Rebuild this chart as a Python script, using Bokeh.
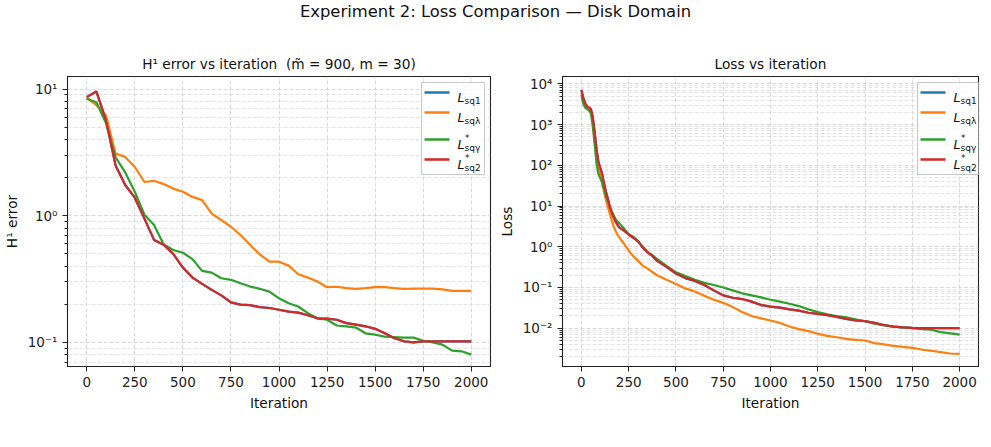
from bokeh.plotting import figure
from bokeh.models import (Range1d, FixedTicker, CustomJSTickFormatter, BoxAnnotation,
                          Label, Div)
from bokeh.layouts import column, row
from bokeh.embed import file_html
from bokeh.resources import INLINE

# ---------------- data ----------------
h1_iter = list(range(0, 2001, 50))
h1_sq2 = [8.65, 9.6, 5.7, 2.5, 1.75, 1.39, 0.95, 0.645, 0.59, 0.50, 0.39, 0.325, 0.29, 0.26,
          0.235, 0.207, 0.199, 0.197, 0.19, 0.187, 0.181, 0.175, 0.172, 0.164, 0.155, 0.154,
          0.151, 0.142, 0.138, 0.134, 0.128, 0.118, 0.108, 0.102, 0.100, 0.102, 0.102, 0.102,
          0.102, 0.102, 0.102]
h1_sqg = [8.4, 7.9, 5.4, 2.9, 2.2, 1.55, 1.02, 0.845, 0.594, 0.537, 0.511, 0.455, 0.367, 0.356,
          0.321, 0.312, 0.293, 0.276, 0.265, 0.252, 0.223, 0.204, 0.192, 0.17, 0.155, 0.151,
          0.136, 0.134, 0.131, 0.118, 0.115, 0.111, 0.110, 0.109, 0.109, 0.103, 0.100, 0.096,
          0.086, 0.085, 0.080]
h1_sql = [8.55, 7.5, 6.2, 3.1, 2.92, 2.43, 1.85, 1.89, 1.78, 1.64, 1.55, 1.41, 1.33, 1.04,
          0.925, 0.819, 0.705, 0.588, 0.496, 0.434, 0.434, 0.404, 0.345, 0.325, 0.302, 0.273,
          0.275, 0.268, 0.265, 0.268, 0.273, 0.273, 0.268, 0.265, 0.266, 0.266, 0.266, 0.262,
          0.255, 0.255, 0.255]
# L_sq1 is drawn first and is completely hidden below L*_sq2 in the reference
h1_sq1 = list(h1_sq2)

loss_iter = [0, 10, 20, 30, 40, 50, 60, 70, 80, 90, 100, 110, 120, 130, 140, 150, 160, 170,
             180, 190, 200, 225, 250, 275, 300, 325, 350, 375, 400, 450, 500, 550, 600, 650,
             700, 750, 800, 850, 900, 950, 1000, 1050, 1100, 1150, 1200, 1250, 1300, 1350,
             1400, 1450, 1500, 1550, 1600, 1650, 1700, 1750, 1800, 1850, 1900, 1950, 2000]
loss_sq2 = [7000, 4500, 3300, 2800, 2600, 2400, 1550, 650, 250, 120, 85, 60, 35, 22, 15, 9.5,
            7.0, 5.3, 4.2, 3.5, 3.0, 2.5, 2.0, 1.65, 1.35, 0.95, 0.72, 0.6, 0.45, 0.32, 0.22,
            0.17, 0.145, 0.115, 0.085, 0.064, 0.056, 0.052, 0.045, 0.037, 0.034, 0.032, 0.029,
            0.027, 0.024, 0.0225, 0.021, 0.019, 0.017, 0.0155, 0.015, 0.0135, 0.012, 0.011,
            0.0105, 0.0102, 0.0101, 0.0101, 0.0101, 0.0101, 0.0101]
loss_sqg = [5300, 3200, 2600, 2400, 2200, 1900, 900, 330, 110, 60, 48, 38, 25, 17, 13, 10,
            7.5, 6.0, 4.8, 4.2, 3.8, 2.8, 2.0, 1.75, 1.35, 1.0, 0.75, 0.62, 0.5, 0.34, 0.235,
            0.19, 0.155, 0.13, 0.115, 0.1, 0.085, 0.072, 0.064, 0.057, 0.05, 0.045, 0.04, 0.035,
            0.029, 0.025, 0.022, 0.02, 0.0185, 0.0165, 0.0148, 0.013, 0.0118, 0.011, 0.0105,
            0.01, 0.0095, 0.0092, 0.008, 0.0075, 0.007]
loss_sql = [6000, 4000, 3000, 2600, 2400, 2100, 1200, 450, 160, 90, 55, 35, 22, 14, 9.5, 6.5,
            4.5, 3.2, 2.5, 2.0, 1.7, 1.2, 0.8, 0.58, 0.45, 0.34, 0.29, 0.24, 0.2, 0.155, 0.122,
            0.095, 0.08, 0.063, 0.05, 0.042, 0.033, 0.025, 0.02, 0.0175, 0.0155, 0.0135, 0.011,
            0.0095, 0.0085, 0.0073, 0.0065, 0.006, 0.0055, 0.0052, 0.005, 0.0043, 0.004,
            0.0037, 0.0035, 0.0033, 0.003, 0.0028, 0.0026, 0.0024, 0.00235]
loss_sq1 = list(loss_sq2)

x_ticks = [0, 250, 500, 750, 1000, 1250, 1500, 1750, 2000]
series_names = [("L", "sq1", False), ("L", "sqλ", False), ("L", "sqγ", True), ("L", "sq2", True)]
colors = ["#1f77b4", "#ff7f0e", "#2ca02c", "#d62728"]

FONT = "DejaVu Sans"
DIV_H = 30
FIG_H = 447 - DIV_H

sup_fmt = CustomJSTickFormatter(code="""
const e = Math.round(Math.log10(tick));
const m = {'-':'\u207b','0':'\u2070','1':'\u00b9','2':'\u00b2','3':'\u00b3','4':'\u2074',
           '5':'\u2075','6':'\u2076','7':'\u2077','8':'\u2078','9':'\u2079'};
return '10' + String(e).split('').map(c => m[c]).join('');
""")


def log_ticks(lo_exp, hi_exp):
    majors = [10.0 ** e for e in range(lo_exp, hi_exp + 1)]
    minors = [k * 10.0 ** e for e in range(lo_exp - 1, hi_exp + 1) for k in range(2, 10)]
    return majors, minors


def make_fig(width, bl, br, yr, title, ylab, exps):
    p = figure(width=width, height=FIG_H, x_range=Range1d(-100, 2100),
               y_range=Range1d(*yr), y_axis_type="log", output_backend="svg",
               toolbar_location=None, min_border_left=bl, min_border_right=br,
               min_border_top=46, min_border_bottom=81, title=title)
    p.background_fill_color = "white"
    p.border_fill_color = "white"
    p.outline_line_color = "#222222"
    p.outline_line_width = 1.1
    p.title.align = "center"
    p.title.text_font = FONT
    p.title.text_font_size = "13.7px"
    p.title.text_font_style = "normal"
    p.title.text_color = "#111111"

    xt = FixedTicker(ticks=x_ticks, minor_ticks=[])
    majors, minors = log_ticks(*exps)
    yt = FixedTicker(ticks=majors, minor_ticks=minors)
    p.xaxis.ticker = xt
    p.xgrid.ticker = xt
    p.yaxis.ticker = yt
    p.ygrid.ticker = yt
    p.yaxis.formatter = sup_fmt

    for ax in (p.xaxis, p.yaxis):
        ax.axis_line_color = "#222222"
        ax.major_tick_line_color = "#222222"
        ax.minor_tick_line_color = "#222222"
        ax.major_tick_out = 5
        ax.major_tick_in = 0
        ax.minor_tick_in = 0
        ax.major_label_text_font = FONT
        ax.major_label_text_font_size = "13.5px"
        ax.major_label_text_color = "#222222"
        ax.axis_label_text_font = FONT
        ax.axis_label_text_font_size = "13.7px"
        ax.axis_label_text_font_style = "normal"
        ax.axis_label_text_color = "#111111"
    p.xaxis.minor_tick_out = 0
    p.yaxis.minor_tick_out = 3
    p.xaxis.axis_label = "Iteration"
    p.yaxis.axis_label = ylab

    for g in (p.xgrid, p.ygrid):
        g.grid_line_color = "#cfcfcf"
        g.grid_line_dash = "4 2"
        g.grid_line_width = 0.8
    p.ygrid.minor_grid_line_color = "#dcdcdc"
    p.ygrid.minor_grid_line_dash = "4 2"
    p.ygrid.minor_grid_line_width = 0.8
    return p


def add_legend(p, fw, fh, right_gap):
    bl = fw - right_gap - 63
    p.add_layout(BoxAnnotation(left=bl, right=fw - right_gap, top=fh - 6, bottom=fh - 98,
                               left_units="screen", right_units="screen",
                               top_units="screen", bottom_units="screen",
                               fill_color="white", fill_alpha=0.85,
                               line_color="#c8c8c8", line_alpha=1.0, line_width=1,
                               level="overlay"))
    ys = [fh - 16, fh - 36, fh - 63, fh - 83]
    for (base, sub, star), c, y in zip(series_names, colors, ys):
        p.add_layout(BoxAnnotation(left=bl + 3, right=bl + 28, top=y + 1.2, bottom=y - 1.2,
                                   left_units="screen", right_units="screen",
                                   top_units="screen", bottom_units="screen",
                                   fill_color=c, fill_alpha=1, line_color=None,
                                   level="overlay"))
        p.add_layout(Label(x=bl + 36, y=y - 5, x_units="screen", y_units="screen",
                           text=base, text_font=FONT, text_font_size="12.5px",
                           text_font_style="italic", text_color="#111111",
                           text_baseline="alphabetic", level="overlay"))
        p.add_layout(Label(x=bl + 43, y=y - 8, x_units="screen", y_units="screen",
                           text=sub, text_font=FONT, text_font_size="9px",
                           text_color="#111111", text_baseline="alphabetic",
                           level="overlay"))
        if star:
            p.add_layout(Label(x=bl + 43.5, y=y + 2, x_units="screen", y_units="screen",
                               text="*", text_font=FONT, text_font_size="9px",
                               text_color="#111111", text_baseline="alphabetic",
                               level="overlay"))


p1 = make_fig(495, 67, 5, (0.0645, 12.6),
              "H\u00b9 error vs iteration\u00a0\u00a0(m\u0303 = 900, m = 30)", "H\u00b9 error",
              (-1, 1))
p2 = make_fig(496, 66, 13, (0.00115, 15100), "Loss vs iteration", "Loss", (-2, 4))

for data, p, it in (((h1_sq1, h1_sql, h1_sqg, h1_sq2), p1, h1_iter),
                    ((loss_sq1, loss_sql, loss_sqg, loss_sq2), p2, loss_iter)):
    for ys, c in zip(data, colors):
        p.line(it, ys, line_color=c, line_width=2.2)

add_legend(p1, 423, 290, 6)
add_legend(p2, 422, 290, 4)

div = Div(text="Experiment 2: Loss Comparison \u2014 Disk Domain", width=991, height=DIV_H,
          margin=(0, 0, 0, 0),
          styles={"font-family": FONT, "font-size": "16.4px", "text-align": "center",
                  "line-height": "24px", "color": "#111111", "width": "991px"})

layout = column(div, row(p1, p2, spacing=0), spacing=0)
open("out.html", "w").write(file_html(layout, INLINE))
